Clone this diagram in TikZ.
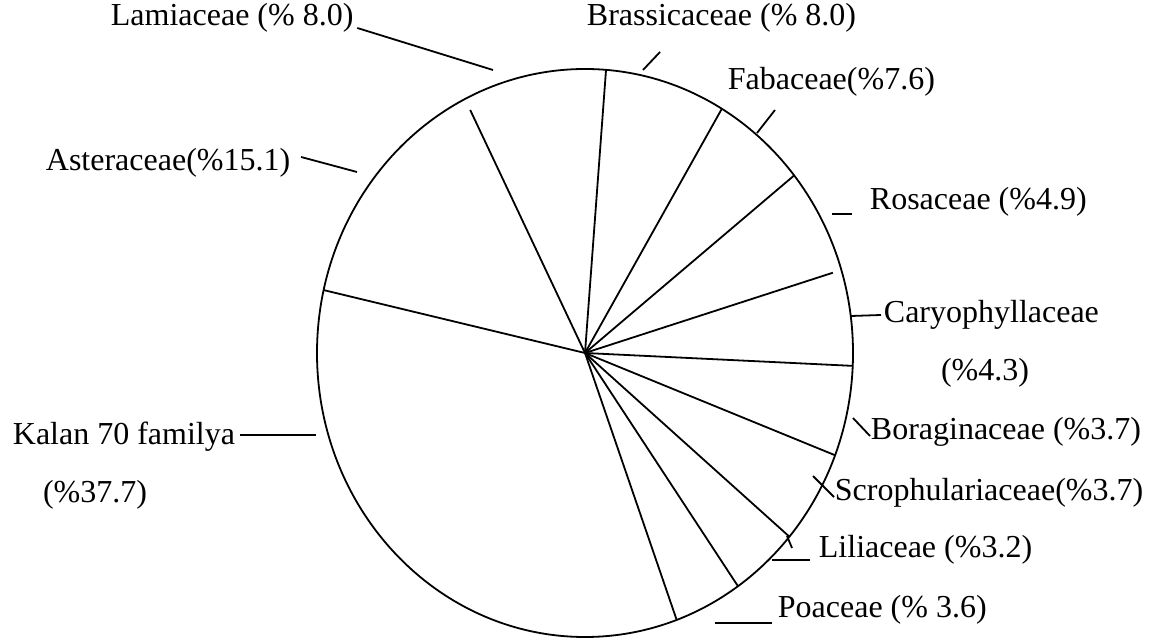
\documentclass[tikz,border=0pt]{standalone}
\usepackage{fontspec}
\setmainfont{Liberation Serif}
\usetikzlibrary{positioning}

\begin{document}
\begin{tikzpicture}[x=0.5pt, y=-0.5pt, line width=0.9pt, every node/.style={inner sep=0pt, font=\fontsize{16}{19}\selectfont}]
	\tikzstyle{famname}=[anchor=west]
	\tikzstyle{leader}=[line width=0.9pt]
	\useasboundingbox (0,0) rectangle (1162,640);
	
	\coordinate (c) at (585,353);
	\draw (c) ellipse [x radius=134pt, y radius=142pt];
	
	\foreach \a in {167.2,85.5,59.3,38.7,-2.6,-21.1,-40.3,-55.2,-70}
		\draw (c) -- ++(\a:134pt and 142pt);
	\draw (c) -- ++(116.6:128.2pt and 135.9pt);
	\draw (c) -- ++(17:129.6pt and 137.3pt);
	
	\node[famname] (lam)  at (110,18)  {Lamiaceae (\% 8.0)};
	\node[famname] (bra)  at (586,18)  {Brassicaceae (\% 8.0)};
	\node[famname] (fab)  at (727,82)  {Fabaceae(\%7.6)};
	\node[famname] (ros)  at (869,202) {Rosaceae (\%4.9)};
	\node[famname] (car)  at (883,315) {Caryophyllaceae};
	\node          (carp) at (985,373) {(\%4.3)};
	\node[famname] (bor)  at (870,432) {Boraginaceae (\%3.7)};
	\node[famname] (scr)  at (834,493) {Scrophulariaceae(\%3.7)};
	\node[famname] (lil)  at (818,550) {Liliaceae (\%3.2)};
	\node[famname] (poa)  at (777,610) {Poaceae (\% 3.6)};
	\node[famname] (ast)  at (45,163)  {Asteraceae(\%15.1)};
	\node[famname] (kal)  at (12,437)  {Kalan 70 familya};
	\node          (kalp) at (95,495)  {(\%37.7)};
	
	\coordinate (lamE) at (493,70);
	\coordinate (braA) at (660,52);
	\coordinate (braE) at (643,70);
	\coordinate (fabA) at (775,110);
	\coordinate (fabE) at (757,133);
	\coordinate (rosA) at (852,214);
	\coordinate (rosE) at (832,214);
	\coordinate (carE) at (851,316);
	\coordinate (borE) at (853,418);
	\coordinate (scrE) at (813,476);
	\coordinate (lilE) at (772,560);
	\coordinate (lilT) at (787,536);
	\coordinate (lilU) at (792,548);
	\coordinate (poaE) at (715,623);
	\coordinate (astE) at (357,172);
	\coordinate (kalE) at (316,435);
	
	\draw[leader] ([shift={(3,10)}]lam.east) -- (lamE);
	\draw[leader] (braA) -- (braE);
	\draw[leader] (fabA) -- (fabE);
	\draw[leader] (rosA) -- (rosE);
	\draw[leader] ([xshift=-1pt]car.west) -- (carE);
	\draw[leader] ([yshift=-2pt]bor.west) -- (borE);
	\draw[leader] ([yshift=-2pt]scr.west) -- (scrE);
	\draw[leader] ([shift={(-8,10)}]lil.west) -- (lilE);
	\draw[leader] (lilT) -- (lilU);
	\draw[leader] ([shift={(-5,13)}]poa.west) -- (poaE);
	\draw[leader] ([shift={(10,-6)}]ast.east) -- (astE);
	\draw[leader] ([shift={(4,-2)}]kal.east) -- (kalE);
\end{tikzpicture}
\end{document}
